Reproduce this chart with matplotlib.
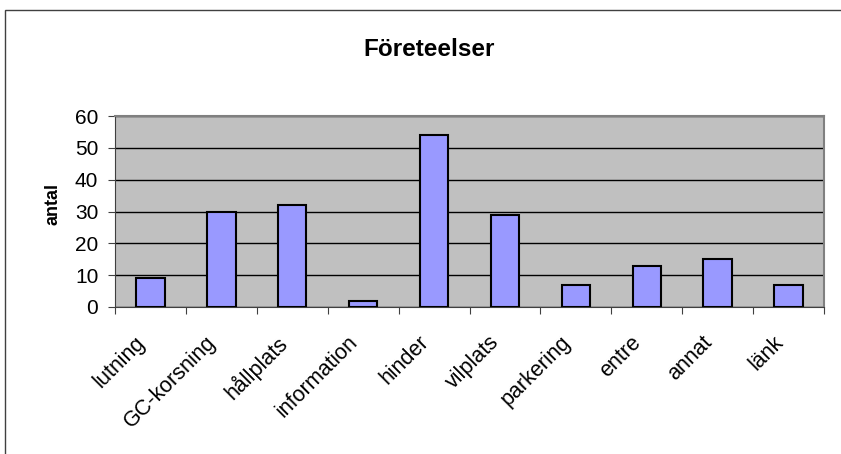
import numpy as np
import matplotlib.pyplot as plt
from matplotlib.patches import Rectangle
from matplotlib.transforms import ScaledTranslation, blended_transform_factory

plt.rcParams['font.family'] = ['Liberation Sans', 'DejaVu Sans']

categories = ["lutning", "GC-korsning", "hållplats", "information", "hinder",
              "vilplats", "parkering", "entre", "annat", "länk"]
antal = [9, 30, 32, 2, 54, 29, 7, 13, 15, 7]
yticks = [0, 10, 20, 30, 40, 50, 60]

W, H = 841, 454
fig = plt.figure(figsize=(W / 100, H / 100), dpi=100)

# outer chart frame (cut off at right and bottom like the reference)
fig.patches.append(Rectangle((5 / W, -0.1), 1.2, 1 - 10 / H + 0.1,
                             transform=fig.transFigure, fill=False,
                             edgecolor='#404040', linewidth=1.0))

# plot area
x0, x1, y0, y1 = 115, 824, 116, 307
ax = fig.add_axes([x0 / W, 1 - y1 / H, (x1 - x0) / W, (y1 - y0) / H])
ax.set_facecolor('#C0C0C0')

x = np.arange(len(categories))
ax.bar(x, antal, width=0.4, color='#9999FF', edgecolor='black',
       linewidth=1.5, zorder=3)

ax.set_xlim(-0.5, len(categories) - 0.5)
ax.set_ylim(0, 60)
ax.set_yticks(yticks)
ax.yaxis.grid(True, color='black', linewidth=1.0, zorder=1)
ax.set_axisbelow(True)

# category boundaries as ticks
ax.set_xticks(np.arange(len(categories) + 1) - 0.5)
ax.set_xticklabels([])
ax.tick_params(axis='x', length=5, color='#404040', direction='out')
ax.tick_params(axis='y', length=5, color='#404040', labelsize=15, pad=7)

# rotated category labels, right end just left of the category centre
trans = blended_transform_factory(ax.transData, ax.transAxes) + \
    ScaledTranslation(-16 / 100, -25 / 100, fig.dpi_scale_trans)
for xi, cat in zip(x, categories):
    ax.text(xi, 0, cat, transform=trans, rotation=45, ha='right', va='top',
            rotation_mode='anchor', fontsize=15.5, clip_on=False)

for side in ['top', 'right']:
    ax.spines[side].set_color('#808080')
    ax.spines[side].set_linewidth(1.5)
ax.spines['left'].set_color('#404040')
ax.spines['bottom'].set_color('#404040')

fig.text(53 / W, 1 - 204 / H, 'antal', ha='center', va='center', rotation=90,
         fontsize=13, fontweight='bold')
fig.text(429 / W, 1 - 50 / H, 'Företeelser', ha='center', va='center',
         fontsize=17.5, fontweight='bold')

fig.savefig('out.png', dpi=100)
